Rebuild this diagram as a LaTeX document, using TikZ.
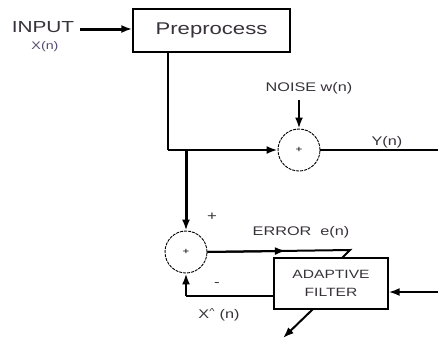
\documentclass[tikz,border=0pt]{standalone}
\usepackage{fontspec}
\setmainfont{Liberation Sans}[FakeStretch=1.3]
\usetikzlibrary{arrows.meta, positioning, calc}
\definecolor{inkgray}{RGB}{55,50,58}
\definecolor{labpurple}{RGB}{85,75,110}

\begin{document}
\begin{tikzpicture}[
    x=1pt, y=-1pt,
    font=\fontsize{12.5}{14}\selectfont,
    block/.style={rectangle, draw, line width=1.3pt, text centered, inner sep=0pt,
                  text=inkgray},
    adder/.style={circle, draw, line width=0.9pt, dash pattern=on 3pt off 1pt,
                  minimum size=42pt, inner sep=0pt, font=\fontsize{9}{9}\selectfont},
    lbl/.style={inner sep=0pt, text=inkgray},
    arr/.style={-{Latex[length=11pt, width=8pt]}},
    every node/.style={align=center}
  ]
  \useasboundingbox (0,0) rectangle (438,346);

  % Blocks
  \node[block, minimum width=157pt, minimum height=43pt,
        font=\fontsize{17}{19}\selectfont] (pre) at (211.5,30.5) {Preprocess};
  \node[block, minimum width=114pt, minimum height=51pt,
        font=\fontsize{12}{18}\selectfont] (filt) at (331,283.5) {ADAPTIVE\\FILTER};

  % Summing junctions
  \node[adder] (sum1) at (299,150) {+};
  \node[adder] (sum2) at (186,252) {+};

  % Labels
  \node[lbl, font=\fontsize{16}{18}\selectfont] (inp) at (43,27) {INPUT};
  \node[lbl, text=labpurple, font=\fontsize{11}{12}\selectfont] (xn) at (45,47) {X(n)};
  \node[lbl] (noise) at (309,88) {NOISE w(n)};
  \node[lbl] (yn) at (387,142) {Y(n)};
  \node[lbl] (err) at (301,232) {ERROR\ \ e(n)};
  \node[lbl, font=\fontsize{13}{13}\selectfont] (plus) at (212,217) {+};
  \node[lbl, font=\fontsize{13}{13}\selectfont] (minus) at (217,285) {-};
  \node[lbl] (xhat) at (219,315) {X\textsuperscript{\textasciicircum}\ (n)};

  % Free ends and corners
  \coordinate (tap)   at (168,150);
  \coordinate (split) at (186,150);
  \coordinate (yout)  at (438,150);
  \coordinate (ek)    at (350,250);
  \coordinate (ekd)   at (342,258);
  \coordinate (din)   at (438,292);
  \coordinate (fb)    at (186,296);
  \coordinate (wout)  at (283,338);

  % Main path
  \draw[arr, line width=3pt] (inp.east) ++(6,2) -- (pre.west |- 0,29);
  \draw[line width=1.6pt] (pre.south -| tap) -- (tap);
  \draw[arr, line width=2.2pt] (tap) -- (sum1.west);
  \draw[arr, line width=2.6pt] (noise.south -| sum1.north) ++(0,6) -- (sum1.north);
  \draw[line width=1.2pt] (sum1.east) -- (yout);

  % Error loop
  \draw[arr, line width=3pt] (split) -- (sum2.north);
  \draw[line width=2pt] (sum2.east) -- (ek) -- (ekd);
  \draw[arr, line width=2pt] (sum2.east) -- ($(sum2.east)!0.55!(ek)$);
  \draw[arr, line width=2pt] (din) -- (filt.east |- din);
  \draw[line width=2pt] (fb -| filt.west) -- (fb);
  \draw[arr, line width=2.6pt] (fb) -- (sum2.south);
  \draw[arr, line width=2pt] (313,309) -- (wout);

\end{tikzpicture}
\end{document}
